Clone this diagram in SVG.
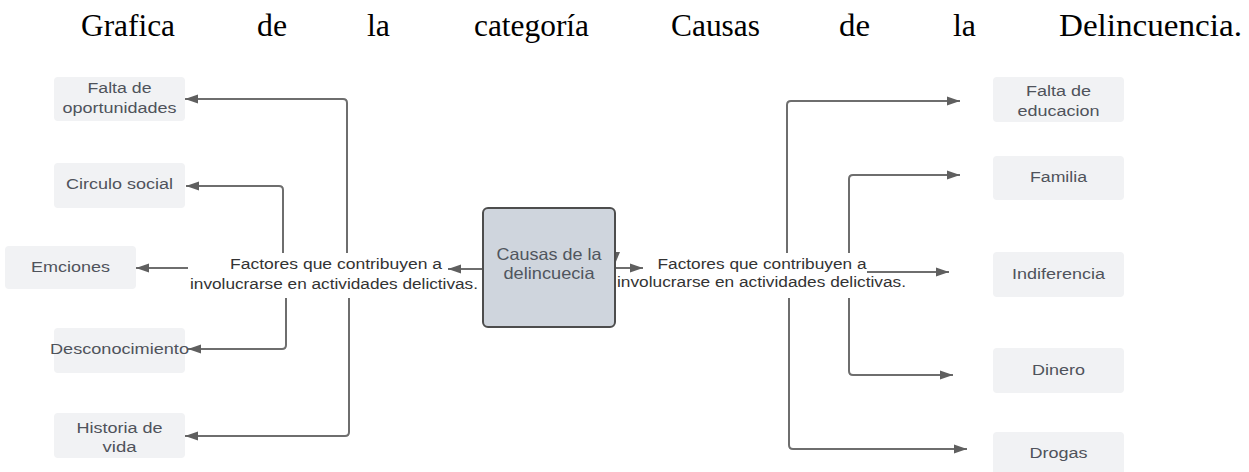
<svg xmlns="http://www.w3.org/2000/svg" width="1249" height="472" viewBox="0 0 1249 472">
<style>
.title{font-family:"Liberation Serif","Times New Roman",serif;font-size:31px;fill:#000}
.node rect{fill:#f1f2f4}
.nt{font-family:"Liberation Sans",Arial,sans-serif;font-size:15.5px;fill:#4f535b;text-anchor:middle}
.lbl{font-family:"Liberation Sans",Arial,sans-serif;font-size:15.5px;fill:#333;text-anchor:middle}
.ct{font-family:"Liberation Sans",Arial,sans-serif;font-size:16.5px;fill:#50555e;text-anchor:middle}
.conn path{fill:none;stroke:#6e6e6e;stroke-width:2;marker-end:url(#ah)}
</style>
<defs>
<marker id="ah" markerUnits="userSpaceOnUse" markerWidth="14" markerHeight="10" refX="13" refY="5" orient="auto">
<path d="M0,0.5 L13,5 L0,9.5 z" fill="#5f5f5f"/>
</marker>
</defs>
<rect width="1249" height="472" fill="#fff"/>
<g id="title">
<text class="title" x="81" y="36" textLength="94" lengthAdjust="spacingAndGlyphs">Grafica</text>
<text class="title" x="257" y="36" textLength="30" lengthAdjust="spacingAndGlyphs">de</text>
<text class="title" x="367" y="36" textLength="23" lengthAdjust="spacingAndGlyphs">la</text>
<text class="title" x="474" y="36" textLength="115" lengthAdjust="spacingAndGlyphs">categoría</text>
<text class="title" x="671" y="36" textLength="89" lengthAdjust="spacingAndGlyphs">Causas</text>
<text class="title" x="839" y="36" textLength="31" lengthAdjust="spacingAndGlyphs">de</text>
<text class="title" x="953" y="36" textLength="23" lengthAdjust="spacingAndGlyphs">la</text>
<text class="title" x="1059" y="36" textLength="183" lengthAdjust="spacingAndGlyphs">Delincuencia.</text>
</g>
<g id="connectors" class="conn">
<path d="M347,253 V103 Q347,99 343,99 H185"/>
<path d="M283,253 V190 Q283,186 279,186 H186"/>
<path d="M188,268 H136"/>
<path d="M286,298 V345 Q286,349 282,349 H188"/>
<path d="M349,298 V432 Q349,436 345,436 H185"/>
<path d="M483,269 H448"/>
<path d="M615,268 H643"/>
<path d="M787,253 V105 Q787,101 791,101 H960"/>
<path d="M849,253 V179 Q849,175 853,175 H960"/>
<path d="M867,272 H949"/>
<path d="M849,298 V371 Q849,375 853,375 H953"/>
<path d="M789,298 V445 Q789,449 793,449 H967"/>
<polygon points="610,252 620,252 615,264" fill="#5f5f5f"/>
</g>
<g id="center" class="node-center">
<rect x="483" y="208" width="132" height="119" rx="5" fill="#cfd5dd" stroke="#4d4d4d" stroke-width="2"/>
<text class="ct" x="549" y="260" textLength="105" lengthAdjust="spacingAndGlyphs">Causas de la</text>
<text class="ct" x="549" y="279" textLength="91" lengthAdjust="spacingAndGlyphs">delincuecia</text>
</g>
<g id="label-left">
<text class="lbl" x="336" y="269" textLength="212" lengthAdjust="spacingAndGlyphs">Factores que contribuyen a</text>
<text class="lbl" x="334" y="288.5" textLength="288" lengthAdjust="spacingAndGlyphs">involucrarse en actividades delictivas.</text>
</g>
<g id="label-right">
<text class="lbl" x="762" y="269" textLength="209" lengthAdjust="spacingAndGlyphs">Factores que contribuyen a</text>
<text class="lbl" x="761.5" y="287" textLength="289" lengthAdjust="spacingAndGlyphs">involucrarse en actividades delictivas.</text>
</g>
<g id="n-oportunidades" class="node">
<rect x="54" y="77" width="131" height="44" rx="4"/>
<text class="nt" x="119.5" y="93" textLength="64" lengthAdjust="spacingAndGlyphs">Falta de</text>
<text class="nt" x="119.5" y="113" textLength="114" lengthAdjust="spacingAndGlyphs">oportunidades</text>
</g>
<g id="n-circulo" class="node">
<rect x="54" y="163" width="131" height="45" rx="4"/>
<text class="nt" x="119.5" y="189" textLength="107" lengthAdjust="spacingAndGlyphs">Circulo social</text>
</g>
<g id="n-emciones" class="node">
<rect x="5" y="246" width="131" height="43" rx="4"/>
<text class="nt" x="70.5" y="272" textLength="79" lengthAdjust="spacingAndGlyphs">Emciones</text>
</g>
<g id="n-desconocimiento" class="node">
<rect x="54" y="328" width="131" height="45" rx="4"/>
<text class="nt" x="119.5" y="354" textLength="139" lengthAdjust="spacingAndGlyphs">Desconocimiento</text>
</g>
<g id="n-historia" class="node">
<rect x="54" y="413" width="131" height="45" rx="4"/>
<text class="nt" x="119.5" y="433" textLength="86" lengthAdjust="spacingAndGlyphs">Historia de</text>
<text class="nt" x="119.5" y="452" textLength="34" lengthAdjust="spacingAndGlyphs">vida</text>
</g>
<g id="n-educacion" class="node">
<rect x="993" y="77" width="131" height="45" rx="4"/>
<text class="nt" x="1058.5" y="96" textLength="65" lengthAdjust="spacingAndGlyphs">Falta de</text>
<text class="nt" x="1058.5" y="116" textLength="82" lengthAdjust="spacingAndGlyphs">educacion</text>
</g>
<g id="n-familia" class="node">
<rect x="993" y="156" width="131" height="44" rx="4"/>
<text class="nt" x="1058.5" y="182" textLength="57" lengthAdjust="spacingAndGlyphs">Familia</text>
</g>
<g id="n-indiferencia" class="node">
<rect x="993" y="252" width="131" height="45" rx="4"/>
<text class="nt" x="1058.5" y="279" textLength="93" lengthAdjust="spacingAndGlyphs">Indiferencia</text>
</g>
<g id="n-dinero" class="node">
<rect x="993" y="348" width="131" height="45" rx="4"/>
<text class="nt" x="1058.5" y="375" textLength="53" lengthAdjust="spacingAndGlyphs">Dinero</text>
</g>
<g id="n-drogas" class="node">
<rect x="993" y="432" width="131" height="45" rx="4"/>
<text class="nt" x="1058.5" y="458" textLength="58" lengthAdjust="spacingAndGlyphs">Drogas</text>
</g>
</svg>
